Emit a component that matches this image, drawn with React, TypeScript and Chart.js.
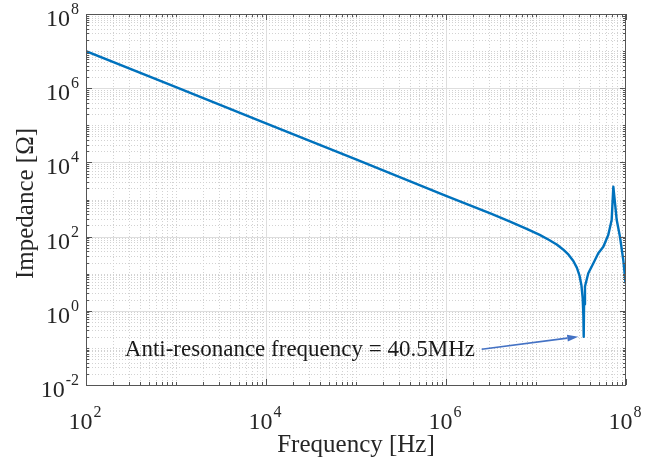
import { useEffect, useRef } from 'react';
import { Chart, registerables } from 'chart.js';

Chart.register(...registerables);

// ---- data (Hz, Ohm) ----
const frequencyHz = [
  1e2, 1e3, 1e4, 1e5, 1e6, 3.16e6, 5e6, 8e6, 1.1e7, 1.4e7, 1.7e7, 2.0e7,
  2.3e7, 2.6e7, 2.85e7, 3.05e7, 3.2e7, 3.3e7, 3.36e7, 3.39e7, 3.42e7, 3.5e7,
  3.81e7, 4.34e7, 4.92e7, 5.6e7, 6.35e7, 6.93e7, 7.23e7, 7.89e7, 8.57e7,
  9.33e7, 9.89e7,
];
const impedanceOhm = [
  1.0e7, 1.07e6, 1.12e5, 1.2e4, 1.26e3, 417, 261, 159, 111, 81, 61, 45,
  32.5, 22, 14.4, 8.7, 4.8, 2.2, 0.74, 0.2, 1.5, 4.5,
  10.3, 19.1, 35.5, 53.5, 110, 280, 2210, 280, 99,
  23.4, 5.5,
];

// ---- axes ----
const xRangeExponents = [2, 8];
const yRangeExponents = [-2, 8];
const xTickExponents = [2, 4, 6, 8];
const yTickExponents = [-2, 0, 2, 4, 6, 8];
const xAxisTitle = 'Frequency [Hz]';
const yAxisTitle = 'Impedance [Ω]';

// ---- annotation (data coordinates: [Hz, Ohm]) ----
const annotationText = 'Anti-resonance frequency = 40.5MHz';
const annotationTextAt = [2.1e6, 0.0605];
const arrowFrom = [2.49e6, 0.0916];
const arrowTo = [2.95e7, 0.2];

const FONT = '"Liberation Serif", "Times New Roman", serif';
const LINE_BLUE = '#0072BD';
const ARROW_BLUE = '#4472C4';

function buildLogTicks(minExp: number, maxExp: number, majors: number[]) {
  const ticks: { value: number; major: boolean; exp: number; m: number }[] = [];
  for (let e = minExp; e <= maxExp; e++) {
    for (let m = 1; m <= 9; m++) {
      if (e === maxExp && m > 1) break;
      ticks.push({ value: m * Math.pow(10, e), major: m === 1 && majors.includes(e), exp: e, m });
    }
  }
  return ticks;
}

const BASE_PX = 24;
const EXP_PX = 16;
const EXP_RAISE = 12;

function drawPower(ctx: CanvasRenderingContext2D, exp: number, left: number, baseline: number) {
  ctx.font = `${BASE_PX}px ${FONT}`;
  ctx.textAlign = 'left';
  ctx.textBaseline = 'alphabetic';
  ctx.fillText('10', left, baseline);
  const bw = ctx.measureText('10').width;
  ctx.font = `${EXP_PX}px ${FONT}`;
  ctx.fillText(String(exp), left + bw + 1, baseline - EXP_RAISE);
}

function powerWidth(ctx: CanvasRenderingContext2D, exp: number) {
  ctx.font = `${BASE_PX}px ${FONT}`;
  const bw = ctx.measureText('10').width;
  ctx.font = `${EXP_PX}px ${FONT}`;
  return bw + 1 + ctx.measureText(String(exp)).width;
}

const matlabAxes = {
  id: 'matlabAxes',
  beforeDatasetsDraw(chart: any) {
    const { ctx, chartArea: a, scales } = chart;
    const xs = scales.x;
    const ys = scales.y;
    ctx.save();
    ctx.lineWidth = 1;
    const passes = [
      { major: false, color: '#d2d2d2', dash: [1, 2] },
      { major: true, color: '#dedede', dash: [] as number[] },
    ];
    for (const p of passes) {
      ctx.strokeStyle = p.color;
      ctx.setLineDash(p.dash);
      for (const t of xs.ticks) {
        if (!!t.major !== p.major) continue;
        const px = Math.round(xs.getPixelForValue(t.value)) + 0.5;
        if (px <= a.left + 1 || px >= a.right - 1) continue;
        ctx.beginPath();
        ctx.moveTo(px, a.top);
        ctx.lineTo(px, a.bottom);
        ctx.stroke();
      }
      for (const t of ys.ticks) {
        if (!!t.major !== p.major) continue;
        const py = Math.round(ys.getPixelForValue(t.value)) + 0.5;
        if (py <= a.top + 1 || py >= a.bottom - 1) continue;
        ctx.beginPath();
        ctx.moveTo(a.left, py);
        ctx.lineTo(a.right, py);
        ctx.stroke();
      }
    }
    ctx.restore();
  },
  afterDatasetsDraw(chart: any) {
    const { ctx, chartArea: a, scales } = chart;
    const xs = scales.x;
    const ys = scales.y;
    ctx.save();
    ctx.setLineDash([]);
    // tick marks (inside, on all four sides)
    ctx.strokeStyle = '#555555';
    ctx.lineWidth = 1;
    for (const t of xs.ticks) {
      const len = t.major ? 6 : 3;
      const px = Math.round(xs.getPixelForValue(t.value)) + 0.5;
      ctx.beginPath();
      ctx.moveTo(px, a.bottom);
      ctx.lineTo(px, a.bottom - len);
      ctx.moveTo(px, a.top);
      ctx.lineTo(px, a.top + len);
      ctx.stroke();
    }
    for (const t of ys.ticks) {
      const len = t.major ? 6 : 3;
      const py = Math.round(ys.getPixelForValue(t.value)) + 0.5;
      ctx.beginPath();
      ctx.moveTo(a.left, py);
      ctx.lineTo(a.left + len, py);
      ctx.moveTo(a.right, py);
      ctx.lineTo(a.right - len, py);
      ctx.stroke();
    }
    // box
    ctx.strokeStyle = '#555555';
    ctx.strokeRect(Math.round(a.left) + 0.5, Math.round(a.top) + 0.5, Math.round(a.right - a.left) - 1, Math.round(a.bottom - a.top));

    // tick labels
    ctx.fillStyle = '#262626';
    for (const t of xs.ticks) {
      if (!t.major) continue;
      const px = xs.getPixelForValue(t.value);
      const w = powerWidth(ctx, t.exp);
      drawPower(ctx, t.exp, px - w / 2 - 1, a.bottom + 44);
    }
    for (const t of ys.ticks) {
      if (!t.major) continue;
      const py = ys.getPixelForValue(t.value);
      const w = powerWidth(ctx, t.exp);
      drawPower(ctx, t.exp, a.left - 7 - w, py + 12);
    }

    // axis titles
    ctx.font = `25px ${FONT}`;
    ctx.textAlign = 'center';
    ctx.textBaseline = 'alphabetic';
    ctx.fillText(xAxisTitle, (a.left + a.right) / 2, a.bottom + 67);
    ctx.save();
    ctx.translate(33, (a.top + a.bottom) / 2 + 4);
    ctx.rotate(-Math.PI / 2);
    ctx.fillText(yAxisTitle, 0, 0);
    ctx.restore();

    // annotation text
    ctx.font = `23px ${FONT}`;
    ctx.textAlign = 'right';
    ctx.fillStyle = '#1a1a1a';
    ctx.fillText(annotationText, xs.getPixelForValue(annotationTextAt[0]), ys.getPixelForValue(annotationTextAt[1]));

    // arrow
    const x1 = xs.getPixelForValue(arrowFrom[0]);
    const y1 = ys.getPixelForValue(arrowFrom[1]);
    const x2 = xs.getPixelForValue(arrowTo[0]);
    const y2 = ys.getPixelForValue(arrowTo[1]);
    const ang = Math.atan2(y2 - y1, x2 - x1);
    const headLen = 11;
    const headW = 3.5;
    ctx.strokeStyle = ARROW_BLUE;
    ctx.fillStyle = ARROW_BLUE;
    ctx.lineWidth = 1.6;
    ctx.beginPath();
    ctx.moveTo(x1, y1);
    ctx.lineTo(x2 - headLen * Math.cos(ang), y2 - headLen * Math.sin(ang));
    ctx.stroke();
    ctx.beginPath();
    ctx.moveTo(x2, y2);
    ctx.lineTo(x2 - headLen * Math.cos(ang) - headW * Math.sin(ang), y2 - headLen * Math.sin(ang) + headW * Math.cos(ang));
    ctx.lineTo(x2 - headLen * Math.cos(ang) + headW * Math.sin(ang), y2 - headLen * Math.sin(ang) - headW * Math.cos(ang));
    ctx.closePath();
    ctx.fill();
    ctx.restore();
  },
};

export default function App() {
  const canvasRef = useRef<HTMLCanvasElement | null>(null);

  useEffect(() => {
    const canvas = canvasRef.current;
    if (!canvas) return;
    const points = frequencyHz.map((f, i) => ({ x: f, y: impedanceOhm[i] }));
    const chart = new Chart(canvas, {
      type: 'line',
      data: {
        datasets: [
          {
            data: points,
            borderColor: LINE_BLUE,
            borderWidth: 2.4,
            pointRadius: 0,
            tension: 0,
            fill: false,
            borderJoinStyle: 'round',
          },
        ],
      },
      options: {
        responsive: false,
        animation: false,
        events: [],
        layout: { padding: { top: 14, right: 32, left: 0, bottom: 0 } },
        plugins: { legend: { display: false }, tooltip: { enabled: false } },
        scales: {
          x: {
            type: 'logarithmic',
            min: Math.pow(10, xRangeExponents[0]),
            max: Math.pow(10, xRangeExponents[1]),
            grid: { display: false },
            border: { display: false },
            ticks: { display: false },
            afterBuildTicks: (s: any) => {
              s.ticks = buildLogTicks(xRangeExponents[0], xRangeExponents[1], xTickExponents);
            },
            afterFit: (s: any) => {
              s.height = 77;
            },
          },
          y: {
            type: 'logarithmic',
            min: Math.pow(10, yRangeExponents[0]),
            max: Math.pow(10, yRangeExponents[1]),
            grid: { display: false },
            border: { display: false },
            ticks: { display: false },
            afterBuildTicks: (s: any) => {
              s.ticks = buildLogTicks(yRangeExponents[0], yRangeExponents[1], yTickExponents);
            },
            afterFit: (s: any) => {
              s.width = 86;
            },
          },
        },
      },
      plugins: [matlabAxes],
    });
    return () => chart.destroy();
  }, []);

  return (
    <div style={{ position: 'fixed', left: 0, top: 0, width: 658, height: 462, background: '#fff' }}>
      <canvas ref={canvasRef} width={658} height={462} style={{ display: 'block' }} />
    </div>
  );
}
